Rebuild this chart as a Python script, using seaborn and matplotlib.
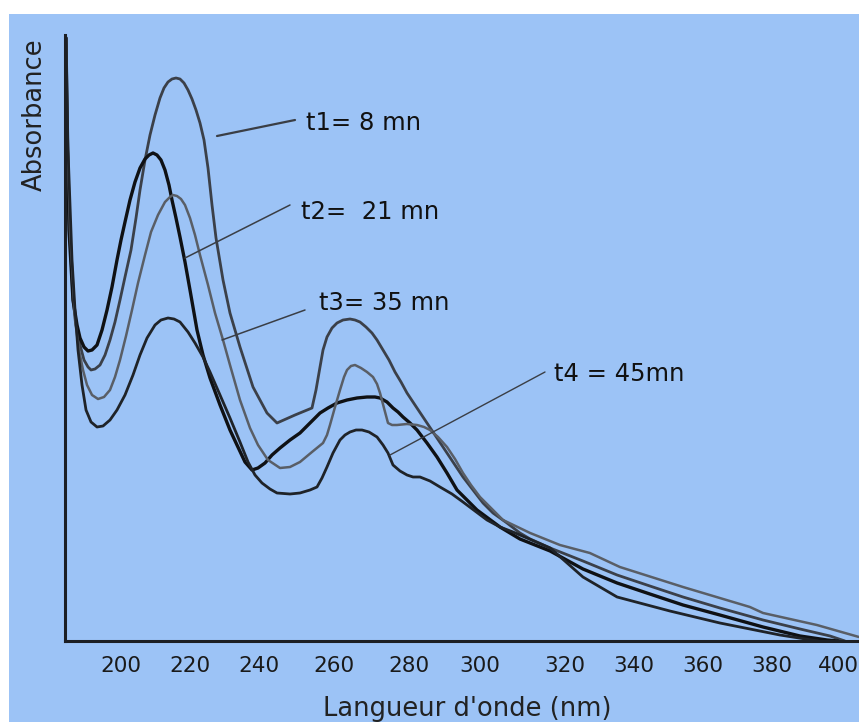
import numpy as np
import pandas as pd
import matplotlib
matplotlib.use("Agg")
import matplotlib.pyplot as plt
import seaborn as sns
from matplotlib.patches import Rectangle

# ---------------- data (wavelength nm, absorbance a.u.) ----------------
t1_nm = [184.06, 184.35, 184.93, 186.09, 186.96, 188.12, 189.28, 190.44, 191.31, 192.47, 193.92, 195.37,
         196.81, 198.26, 199.71, 201.16, 202.90, 204.35, 205.51, 206.96, 208.41, 209.86, 211.30, 212.46,
         213.62, 214.78, 215.94, 217.10, 218.26, 219.42, 220.58, 221.74, 222.90, 224.06, 225.22, 226.38,
         227.54, 228.70, 229.57, 231.59, 234.49, 238.26, 242.13, 244.80, 249.60, 254.13, 255.20, 256.27,
         257.07, 258.13, 259.47, 260.80, 262.40, 264.27, 265.60, 266.93, 268.53, 270.13, 271.47, 273.07,
         274.67, 276.27, 277.87, 279.47, 282.25, 285.07, 287.32, 289.58, 292.39, 295.21, 298.03, 300.71,
         303.06, 306.35, 309.4, 311.8, 316.5, 325.2, 335.1, 344.6, 354.2, 364.9, 377.4, 388.5, 397.6, 402.1]
t1_abs = [6.03, 5.21, 4.21, 3.41, 3.16, 2.96, 2.81, 2.74, 2.71, 2.72, 2.76, 2.86,
          3.01, 3.19, 3.41, 3.64, 3.91, 4.23, 4.51, 4.81, 5.06, 5.26, 5.43, 5.53,
          5.59, 5.62, 5.63, 5.62, 5.58, 5.51, 5.42, 5.31, 5.18, 5.01, 4.73, 4.36,
          4.03, 3.79, 3.61, 3.28, 2.94, 2.54, 2.28, 2.18, 2.26, 2.33, 2.51, 2.74,
          2.91, 3.04, 3.13, 3.18, 3.21, 3.22, 3.21, 3.19, 3.14, 3.08, 3.01, 2.91,
          2.81, 2.69, 2.59, 2.48, 2.33, 2.18, 2.06, 1.94, 1.79, 1.64, 1.51, 1.38,
          1.28, 1.18, 1.08, 1.02, 0.93, 0.80, 0.66, 0.55, 0.44, 0.33, 0.21, 0.12, 0.05, 0.0]

t2_nm = [184.06, 184.35, 184.93, 186.09, 187.25, 188.12, 189.28, 190.44, 191.60, 193.05, 194.50, 195.95,
         197.39, 198.84, 200.00, 201.16, 202.61, 204.06, 205.51, 206.96, 208.12, 209.28, 210.43, 211.59,
         212.75, 213.91, 214.78, 215.94, 217.10, 218.55, 220.00, 222.03, 223.77, 225.80, 228.70, 231.59,
         233.62, 235.94, 237.97, 239.71, 241.60, 243.47, 245.60, 248.27, 250.93, 253.60, 256.27, 258.40,
         260.80, 263.47, 266.13, 268.80, 270.93, 272.27, 274.13, 275.73, 277.07, 278.40, 280.28, 282.25,
         285.07, 287.89, 290.70, 293.52, 296.34, 299.15, 304.7, 309.4, 316.5, 325.2, 335.1, 344.6,
         354.2, 364.9, 377.4, 388.5, 396.7, 400.0]
t2_abs = [6.03, 5.21, 4.11, 3.41, 3.16, 3.03, 2.94, 2.90, 2.91, 2.96, 3.11, 3.31,
          3.54, 3.81, 4.01, 4.19, 4.41, 4.59, 4.73, 4.82, 4.86, 4.88, 4.86, 4.81,
          4.71, 4.56, 4.41, 4.23, 4.04, 3.79, 3.51, 3.11, 2.86, 2.63, 2.36, 2.11,
          1.96, 1.79, 1.71, 1.73, 1.78, 1.86, 1.93, 2.01, 2.08, 2.18, 2.28, 2.33,
          2.38, 2.41, 2.43, 2.44, 2.44, 2.43, 2.39, 2.33, 2.29, 2.24, 2.18, 2.11,
          1.98, 1.84, 1.68, 1.51, 1.41, 1.31, 1.14, 1.02, 0.90, 0.72, 0.58, 0.47,
          0.36, 0.26, 0.14, 0.05, 0.01, 0.0]

t3_nm = [184.06, 184.35, 185.22, 186.67, 187.83, 188.99, 190.15, 191.60, 193.34, 195.08, 196.81, 198.26,
         199.71, 201.45, 203.19, 204.93, 206.96, 208.70, 210.72, 212.75, 214.20, 215.07, 216.23, 217.39,
         218.55, 220.00, 221.45, 222.90, 225.22, 227.25, 229.57, 231.59, 234.49, 237.39, 239.71, 242.40,
         245.60, 248.27, 250.93, 254.13, 257.07, 258.13, 258.93, 260.27, 261.60, 262.67, 263.47, 264.53,
         265.60, 267.20, 268.80, 270.40, 271.47, 272.27, 273.33, 274.40, 275.47, 276.80, 279.47, 282.25,
         284.23, 285.92, 288.17, 290.70, 292.96, 295.21, 297.46, 300.00, 303.06, 305.4, 311.8, 318.8,
         327.2, 335.9, 354.2, 373.6, 377.4, 393.6, 406.4]
t3_abs = [6.03, 5.21, 4.11, 3.21, 2.91, 2.71, 2.56, 2.46, 2.42, 2.44, 2.51, 2.64,
          2.81, 3.05, 3.31, 3.58, 3.86, 4.09, 4.26, 4.39, 4.44, 4.46, 4.45, 4.42,
          4.36, 4.23, 4.06, 3.86, 3.56, 3.28, 3.01, 2.76, 2.41, 2.13, 1.96, 1.81,
          1.73, 1.74, 1.79, 1.89, 1.98, 2.06, 2.16, 2.34, 2.51, 2.64, 2.71, 2.75,
          2.76, 2.73, 2.69, 2.64, 2.57, 2.48, 2.33, 2.18, 2.16, 2.16, 2.17, 2.16,
          2.14, 2.11, 2.04, 1.94, 1.82, 1.68, 1.56, 1.44, 1.31, 1.21, 1.08, 0.96,
          0.88, 0.74, 0.54, 0.34, 0.28, 0.16, 0.04]

t4_nm = [184.06, 184.64, 185.80, 186.67, 187.54, 188.70, 189.86, 191.31, 193.05, 194.79, 196.81, 198.84,
         201.16, 203.48, 205.51, 207.54, 209.86, 211.59, 213.62, 215.36, 217.10, 219.42, 221.45, 223.77,
         225.80, 228.70, 231.59, 234.49, 236.82, 238.84, 240.80, 242.93, 244.80, 248.27, 250.93, 253.60,
         255.47, 256.80, 258.13, 259.73, 261.60, 262.93, 264.27, 265.87, 267.47, 269.33, 271.47, 273.07,
         274.40, 275.73, 277.60, 279.47, 281.13, 283.10, 285.92, 288.73, 292.11, 295.21, 298.59, 301.65,
         304.71, 307.76, 316.5, 325.2, 335.1, 350.4, 364.9, 382.4, 394.0]
t4_abs = [6.03, 4.91, 3.81, 3.31, 2.91, 2.56, 2.31, 2.19, 2.14, 2.15, 2.21, 2.31,
          2.46, 2.66, 2.86, 3.03, 3.16, 3.21, 3.23, 3.22, 3.19, 3.09, 2.98, 2.84,
          2.69, 2.46, 2.23, 1.99, 1.79, 1.66, 1.58, 1.52, 1.48, 1.47, 1.48, 1.51,
          1.54, 1.63, 1.74, 1.88, 2.01, 2.06, 2.09, 2.11, 2.11, 2.09, 2.04, 1.96,
          1.88, 1.76, 1.70, 1.66, 1.64, 1.64, 1.60, 1.54, 1.47, 1.39, 1.30, 1.21,
          1.14, 1.09, 0.93, 0.64, 0.44, 0.30, 0.18, 0.06, 0.0]

series_names = ["t1", "t2", "t3", "t4"]
labels = ["t1= 8 mn", "t2=  21 mn", "t3= 35 mn", "t4 = 45mn"]
tick_values = [200, 220, 240, 260, 280, 300, 320, 340, 360, 380, 400]
x_label = "Langueur d'onde"
x_unit = "(nm)"
y_label = "Absorbance"

# ---------------- styling ----------------
W, H = 859, 722
BG = "#9cc3f6"
line_colors = {"t1": "#3b4049", "t2": "#0f1114", "t3": "#595e66", "t4": "#1f2328"}
line_widths = {"t1": 2.0, "t2": 2.4, "t3": 1.8, "t4": 2.0}

# irregular hand-made axis of the original: pixel position of each tick
tick_px = [121, 190, 259, 334, 409, 480, 565, 634, 703, 772, 838]
ax_left_px, ax_right_px, ax_top_px, ax_bot_px = 65, 859, 35, 641

knot_nm = np.array([tick_values[0] - (tick_px[0] - ax_left_px) / 3.45] + tick_values +
                   [tick_values[-1] + (ax_right_px - tick_px[-1]) / 3.3])
knot_px = np.array([ax_left_px] + tick_px + [ax_right_px], dtype=float)


def fwd(x):
    return np.interp(x, knot_nm, knot_px)


def inv(p):
    return np.interp(p, knot_px, knot_nm)


sns.set_theme(style="white")
plt.rcParams["font.family"] = ["DejaVu Sans"]

fig = plt.figure(figsize=(W / 100, H / 100), dpi=100)
fig.patch.set_facecolor("white")
fig.add_artist(Rectangle((9 / W, 0), 1 - 9 / W, 1 - 14 / H, transform=fig.transFigure,
                         facecolor=BG, edgecolor="none", zorder=-10))

ax = fig.add_axes([ax_left_px / W, 1 - ax_bot_px / H, (ax_right_px - ax_left_px) / W,
                   (ax_bot_px - ax_top_px) / H])
ax.set_facecolor("none")

frames = []
for name, xs, ys in [("t1", t1_nm, t1_abs), ("t2", t2_nm, t2_abs), ("t3", t3_nm, t3_abs), ("t4", t4_nm, t4_abs)]:
    frames.append(pd.DataFrame({"nm": xs, "abs": ys, "serie": name}))
df = pd.concat(frames, ignore_index=True)

ax.set_xscale("function", functions=(fwd, inv))
for name in series_names:
    sub = df[df.serie == name]
    sns.lineplot(data=sub, x="nm", y="abs", ax=ax, color=line_colors[name], lw=line_widths[name],
                 sort=False, estimator=None, legend=False)
for l in ax.lines:
    l.set_solid_joinstyle("round")

ax.set_xlim(knot_nm[0], knot_nm[-1])
ax.set_ylim(0, 6.06)
ax.set_xticks(tick_values)
ax.set_xticklabels([str(v) for v in tick_values], fontsize=15.5, color="#1a1a1a")
ax.set_yticks([0.87, 1.75, 2.74, 3.85, 4.44, 5.2, 6.05])
ax.set_yticklabels([])
ax.tick_params(axis="x", length=3, width=1.5, color="#555555", pad=9, direction="inout")
ax.tick_params(axis="y", length=4, width=2, color="black", direction="out")
ax.xaxis.set_minor_locator(plt.NullLocator())
for s in ["top", "right"]:
    ax.spines[s].set_visible(False)
for s in ["left", "bottom"]:
    ax.spines[s].set_color("#1c1f24")
    ax.spines[s].set_linewidth(2.2)
ax.set_xlabel("")
ax.set_ylabel("")

# annotation leader lines (given in the original's pixel frame, converted to data)
leaders = {
    "t1": ((217, 136), (295, 120)),
    "t2": ((185, 258), (290, 205)),
    "t3": ((222, 340), (305, 310)),
    "t4": ((390, 455), (545, 372)),
}
label_pos = {"t1": (306, 123), "t2": (301, 212), "t3": (319, 303), "t4": (554, 374)}
lead_w = {"t1": 1.6, "t2": 1.1, "t3": 1.1, "t4": 1.0}


def px2data(px, py):
    return inv(px), (ax_bot_px - py) / 100.0


for i, name in enumerate(series_names):
    (x0, y0), (x1, y1) = leaders[name]
    a = px2data(x0, y0)
    b = px2data(x1, y1)
    ax.plot([a[0], b[0]], [a[1], b[1]], color="#3a3e45", lw=lead_w[name])
    lx, ly = px2data(*label_pos[name])
    ax.text(lx, ly, labels[i], fontsize=17.5, color="#111111", ha="left", va="center")

fig.text(35 / W, 1 - 115 / H, y_label, rotation=90, fontsize=18.5, color="#222222",
         ha="center", va="center")
fig.text(467 / W, 1 - 709 / H, x_label + " " + x_unit, fontsize=18.5, color="#222222",
         ha="center", va="center")

fig.savefig("out.png", dpi=100, facecolor="white")
